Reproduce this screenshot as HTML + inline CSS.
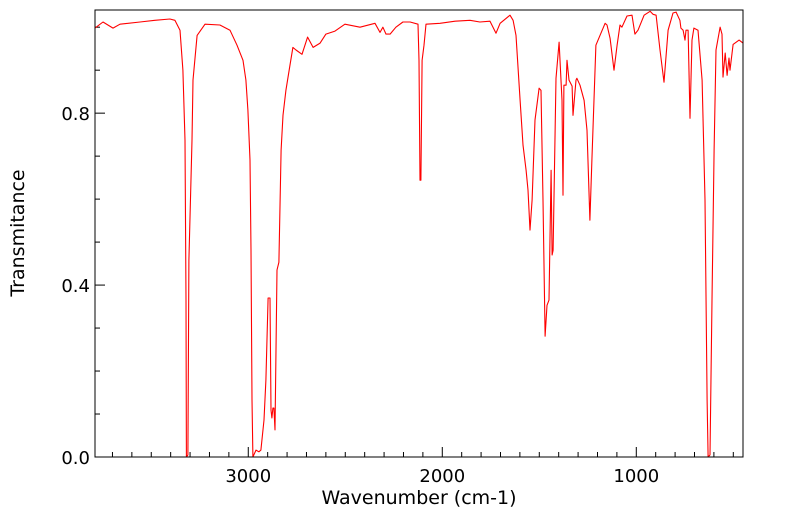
<!DOCTYPE html>
<html><head><meta charset="utf-8"><style>
html,body{margin:0;padding:0;background:#fff;}
svg{display:block;font-family:"DejaVu Sans","Liberation Sans",sans-serif;}
</style></head><body>
<svg id="chart" width="799" height="516" viewBox="0 0 799 516" xmlns="http://www.w3.org/2000/svg">
<g id="axes"></g>
<polyline id="trace" fill="none" stroke="#ff0000" stroke-width="1.1" stroke-linejoin="round"/>
<rect x="95" y="10" width="648" height="447" fill="none" stroke="#000" stroke-width="1"/>
<text x="419" y="504" font-size="19" text-anchor="middle">Wavenumber (cm-1)</text>
<text transform="translate(24,233) rotate(-90)" font-size="19" text-anchor="middle">Transmitance</text>
</svg>
<script>
const wavenumbers=[3790,3749,3697,3661,3558,3481,3404,3378,3352,3337,3326,3321,3319,3311,3306,3290,3285,3264,3223,3146,3094,3058,3027,3012,3002,2991,2986,2981,2976,2960,2945,2935,2919,2909,2898,2888,2883,2878,2873,2868,2862,2852,2842,2831,2821,2806,2785,2770,2754,2723,2694,2666,2630,2600,2553,2502,2424,2347,2321,2306,2290,2269,2239,2203,2166,2125,2120,2115,2110,2104,2094,2084,2012,1934,1857,1806,1754,1723,1702,1651,1635,1620,1599,1584,1568,1558,1548,1537,1522,1501,1491,1481,1470,1460,1450,1439,1434,1429,1414,1398,1383,1378,1373,1362,1357,1347,1331,1326,1311,1306,1290,1269,1254,1239,1229,1208,1187,1161,1151,1135,1115,1099,1084,1074,1048,1022,1007,991,960,929,914,898,878,857,836,811,795,775,770,759,749,744,733,723,713,703,682,661,646,635,630,620,610,599,589,568,558,553,542,532,522,517,501,470,450];
const transmittance=[0.998,1.012,0.998,1.007,1.012,1.016,1.019,1.016,0.993,0.900,0.737,0.365,0.000,0.005,0.458,0.737,0.877,0.981,1.007,1.005,0.993,0.958,0.923,0.877,0.807,0.691,0.481,0.133,0.000,0.016,0.012,0.016,0.086,0.179,0.370,0.370,0.109,0.091,0.114,0.114,0.063,0.435,0.453,0.714,0.795,0.853,0.912,0.953,0.947,0.937,0.977,0.953,0.963,0.984,0.991,1.007,1.000,1.009,0.988,1.000,0.984,0.984,1.000,1.012,1.012,1.007,0.923,0.644,0.644,0.923,0.958,1.007,1.009,1.014,1.016,1.012,1.014,0.986,1.009,1.028,1.016,0.981,0.830,0.726,0.667,0.621,0.528,0.598,0.784,0.858,0.853,0.598,0.281,0.353,0.365,0.667,0.470,0.481,0.881,0.965,0.830,0.609,0.865,0.865,0.923,0.877,0.863,0.795,0.877,0.881,0.865,0.830,0.760,0.551,0.691,0.958,0.981,1.009,1.005,0.974,0.900,0.958,1.005,1.000,1.026,1.028,0.984,0.993,1.028,1.037,1.030,1.028,0.947,0.872,0.993,1.033,1.035,1.016,0.998,0.993,0.970,0.993,0.993,0.788,0.970,0.998,0.993,0.877,0.598,0.133,0.000,0.005,0.365,0.714,0.947,1.000,0.984,0.884,0.940,0.888,0.928,0.900,0.960,0.970,0.963];
const xTickValues=[3000,2000,1000];
const xTickLabels=["3000","2000","1000"];
const yTickValues=[0,0.4,0.8];
const yTickLabels=["0.0","0.4","0.8"];

const L=95,R=743,T=10,B=457;
const xMin=3790,xMax=450,yMin=0,yMax=1.04;
function xScale(v){return L+(xMin-v)/(xMin-xMax)*(R-L);}
function yScale(v){return B-(v-yMin)/(yMax-yMin)*(B-T);}
const NS="http://www.w3.org/2000/svg";
const axes=document.getElementById('axes');
function line(x1,y1,x2,y2,name){const l=document.createElementNS(NS,'line');
l.setAttribute('x1',x1);l.setAttribute('y1',y1);l.setAttribute('x2',x2);l.setAttribute('y2',y2);
l.setAttribute('stroke','#000');l.setAttribute('stroke-width','1');


axes.appendChild(l);}
function text(x,y,s,anchor,name){const t=document.createElementNS(NS,'text');
t.setAttribute('x',x);t.setAttribute('y',y);t.setAttribute('font-size','18');t.setAttribute('text-anchor',anchor);t.textContent=s;


axes.appendChild(t);}
for(let v=3700;v>=500;v-=100){const x=xScale(v);const major=v%1000===0;line(x,B,x,B-(major?10:5),major?'x-major-tick':'x-minor-tick');}
for(let i=0;i<=10;i++){const v=i/10;const y=yScale(v);const major=(i%4===0);line(L,y,L+(major?10:5),y,major?'y-major-tick':'y-minor-tick');}
xTickValues.forEach((v,i)=>text(xScale(v),482,xTickLabels[i],'middle','x-tick-label'));
yTickValues.forEach((v,i)=>text(90,yScale(v)+7,yTickLabels[i],'end','y-tick-label'));
document.getElementById('trace').setAttribute('points',wavenumbers.map((w,i)=>xScale(w).toFixed(1)+','+yScale(transmittance[i]).toFixed(1)).join(' '));
</script>
</body></html>
